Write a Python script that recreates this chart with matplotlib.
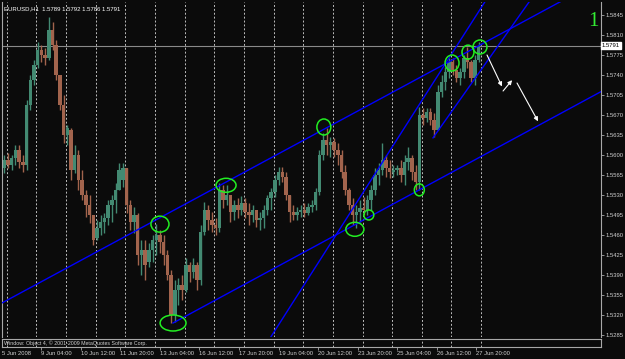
#!/bin/python
'''
EURUSD H1 chart with trend channel, 5 Jun - 27 Jun 2008
candles grouped by 3 hours, prices in 1e-4 units
'''

import matplotlib.pyplot as plt
from matplotlib.patches import Ellipse
import numpy as np

# 3-hour candles, price * 10000
opens = [15577, 15591, 15582, 15595, 15609, 15588, 15582, 15687, 15731, 15757,
         15784, 15775, 15770, 15819, 15792, 15740, 15687, 15635, 15644, 15574,
         15600, 15556, 15530, 15512, 15495, 15455, 15472, 15483, 15490, 15512,
         15521, 15539, 15556, 15577, 15512, 15483, 15495, 15425, 15434, 15413,
         15434, 15451, 15460, 15448, 15425, 15390, 15320, 15364, 15372, 15364,
         15407, 15395, 15407, 15381, 15465, 15504, 15486, 15477, 15472, 15539,
         15521, 15530, 15500, 15512, 15504, 15516, 15500, 15495, 15504, 15486,
         15490, 15504, 15525, 15535, 15556, 15570, 15561, 15530, 15500, 15495,
         15500, 15504, 15498, 15509, 15512, 15535, 15600, 15626, 15617, 15623,
         15609, 15600, 15570, 15539, 15512, 15495, 15500, 15507, 15504, 15521,
         15539, 15565, 15574, 15591, 15577, 15570, 15574, 15577, 15565, 15588,
         15595, 15570, 15553, 15670, 15665, 15675, 15661, 15644, 15710, 15728,
         15745, 15763, 15749, 15735, 15745, 15770, 15763, 15735, 15766]
highs = [15600, 15603, 15600, 15617, 15617, 15600, 15696, 15740, 15766, 15798,
         15792, 15787, 15841, 15833, 15801, 15740, 15705, 15652, 15647, 15617,
         15609, 15574, 15539, 15530, 15495, 15486, 15495, 15498, 15521, 15530,
         15551, 15586, 15586, 15577, 15521, 15509, 15498, 15451, 15451, 15446,
         15460, 15479, 15469, 15460, 15434, 15399, 15381, 15385, 15390, 15420,
         15413, 15420, 15413, 15477, 15518, 15512, 15500, 15490, 15551, 15547,
         15547, 15530, 15521, 15525, 15528, 15525, 15516, 15512, 15504, 15500,
         15512, 15530, 15542, 15565, 15579, 15579, 15570, 15530, 15512, 15509,
         15512, 15516, 15516, 15521, 15542, 15609, 15638, 15647, 15631, 15630,
         15621, 15609, 15582, 15542, 15525, 15512, 15521, 15526, 15530, 15547,
         15577, 15586, 15621, 15600, 15591, 15582, 15582, 15591, 15600, 15614,
         15600, 15582, 15684, 15682, 15682, 15682, 15673, 15722, 15740, 15754,
         15770, 15770, 15757, 15752, 15775, 15789, 15766, 15775, 15798]
lows = [15568, 15577, 15574, 15582, 15577, 15570, 15574, 15679, 15722, 15752,
        15763, 15757, 15766, 15784, 15731, 15679, 15621, 15617, 15556, 15568,
        15539, 15521, 15491, 15481, 15442, 15451, 15460, 15463, 15477, 15483,
        15498, 15539, 15544, 15498, 15469, 15463, 15407, 15390, 15381, 15404,
        15413, 15425, 15428, 15407, 15381, 15306, 15308, 15337, 15346, 15360,
        15378, 15385, 15364, 15372, 15460, 15469, 15465, 15460, 15465, 15507,
        15512, 15483, 15486, 15490, 15495, 15490, 15477, 15483, 15474, 15469,
        15472, 15495, 15504, 15526, 15547, 15553, 15521, 15483, 15486, 15486,
        15491, 15491, 15495, 15500, 15504, 15530, 15591, 15600, 15596, 15596,
        15582, 15560, 15530, 15504, 15477, 15472, 15483, 15495, 15495, 15504,
        15530, 15547, 15565, 15561, 15560, 15561, 15565, 15553, 15547, 15574,
        15556, 15539, 15539, 15652, 15658, 15652, 15631, 15644, 15701, 15714,
        15735, 15740, 15728, 15722, 15735, 15752, 15728, 15722, 15763]
closes = [15591, 15582, 15595, 15609, 15588, 15582, 15687, 15731, 15757, 15784,
          15775, 15770, 15819, 15792, 15740, 15687, 15635, 15647, 15574, 15600,
          15556, 15530, 15512, 15495, 15451, 15472, 15483, 15490, 15512, 15521,
          15539, 15574, 15577, 15512, 15483, 15495, 15425, 15434, 15407, 15434,
          15451, 15460, 15448, 15425, 15390, 15320, 15364, 15372, 15364, 15407,
          15395, 15407, 15381, 15465, 15504, 15486, 15477, 15472, 15539, 15521,
          15530, 15500, 15512, 15504, 15516, 15500, 15495, 15504, 15486, 15490,
          15504, 15525, 15535, 15556, 15570, 15561, 15530, 15500, 15495, 15500,
          15504, 15498, 15509, 15512, 15535, 15600, 15626, 15617, 15623, 15609,
          15600, 15570, 15539, 15512, 15495, 15500, 15507, 15504, 15521, 15539,
          15565, 15574, 15591, 15577, 15570, 15574, 15577, 15565, 15588, 15595,
          15570, 15553, 15670, 15665, 15675, 15661, 15644, 15710, 15728, 15745,
          15763, 15749, 15735, 15745, 15770, 15763, 15735, 15766, 15791]

# hour index of x tick labels (hour 0 = 5 Jun 21:00)
tick_hours = [31, 63, 95, 127, 159, 191, 223, 255, 287, 319, 351, 383]
tick_labels = ["9 Jun 04:00", "10 Jun 12:00", "11 Jun 20:00", "13 Jun 04:00",
               "16 Jun 12:00", "17 Jun 20:00", "19 Jun 04:00", "20 Jun 12:00",
               "23 Jun 20:00", "25 Jun 04:00", "26 Jun 12:00", "27 Jun 20:00"]
day_start_hours = [3, 27, 51, 75, 99, 123, 147, 171, 195, 219, 243, 267,
                   291, 315, 339, 363, 387]
price_ticks = [1.5285, 1.5320, 1.5355, 1.5390, 1.5425, 1.5460, 1.5495, 1.5530,
               1.5565, 1.5600, 1.5635, 1.5670, 1.5705, 1.5740, 1.5775, 1.5810,
               1.5845]
last_price = 1.5791
header = "EURUSD,H1  1.5789 1.5792 1.5786 1.5791"

# trend lines: (hour1, price1, hour2, price2), drawn as rays to the right
trend_lines = [(-1.0, 1.5341, 363.5, 1.5766),
               (137.6, 1.5306, 337.0, 1.5539),
               (216.9, 1.5282, 375.6, 1.5819),
               (348.1, 1.5630, 394.2, 1.5771)]

# touch circles: hour, price, width (hours), height (price)
circle_h = [127.0, 137.6, 180.5, 259.7, 284.8, 296.1, 337.0, 363.5, 376.4, 386.1]
circle_p = [1.5479, 1.5306, 1.5547, 1.5649, 1.5470, 1.5495, 1.5539, 1.5761, 1.5780, 1.5789]
circle_w = [14.6, 21.0, 16.2, 11.3, 14.6, 8.1, 8.1, 11.3, 9.7, 11.3]
circle_ht = [0.0028, 0.0028, 0.00245, 0.0028, 0.00245, 0.00175, 0.0021, 0.0028, 0.00245, 0.00245]

# forecast arrows: (hour start, price start, hour end, price end)
arrows = [(391.8, 1.5775, 403.9, 1.5720),
          (404.8, 1.5712, 412.1, 1.5731),
          (416.1, 1.5726, 433.1, 1.5659)]


def main():
    bg = '#0b0b0b'
    up_col = '#438a72'
    dn_col = '#a2644d'
    axis_col = '#a8a8a8'
    txt_col = '#d0d0d0'
    small = ['Liberation Sans', 'DejaVu Sans']

    W, H = 625, 359
    fig = plt.figure(figsize=(6.25, 3.59), dpi=100, facecolor=bg)
    ax = fig.add_axes([2 / W, (H - 337) / H, 599 / W, 335 / H], facecolor=bg)
    sub = fig.add_axes([2 / W, (H - 347) / H, 599 / W, 8 / H], facecolor=bg, sharex=ax)

    o = np.array(opens) / 1e4
    hi = np.array(highs) / 1e4
    lo = np.array(lows) / 1e4
    c = np.array(closes) / 1e4
    x = np.arange(len(o)) * 3 + 1
    cols = [up_col if cc >= oo else dn_col for oo, cc in zip(o, c)]

    # grid
    for d in day_start_hours:
        ax.axvline(d, color='#bdbdbd', lw=0.7, ls=(0, (2, 2)), zorder=1)
        sub.axvline(d, color='#bdbdbd', lw=0.7, ls=(0, (2, 2)), zorder=1)
    ax.axhline(last_price, color='#8a8a8a', lw=0.8, zorder=1)

    # candles
    ax.vlines(x, lo, hi, colors=cols, lw=1.0, zorder=2)
    body = np.abs(c - o)
    body = np.maximum(body, 0.00008)
    ax.bar(x, body, bottom=np.minimum(o, c), width=2.8, color=cols, lw=0, zorder=2)

    xl = (-0.905, 484.1)
    ax.set_xlim(*xl)
    ax.set_ylim(1.52815, 1.586775)

    # trend lines
    for h1, p1, h2, p2 in trend_lines:
        slope = (p2 - p1) / (h2 - h1)
        ax.plot([h1, xl[1]], [p1, p1 + slope * (xl[1] - h1)], color='#0000ff', lw=1.0, zorder=3)

    for i in range(len(circle_h)):
        ax.add_patch(Ellipse((circle_h[i], circle_p[i]), circle_w[i], circle_ht[i],
                             fill=False, ec='#22ee22', lw=1.1, zorder=4))

    for h1, p1, h2, p2 in arrows:
        ax.annotate('', xy=(h2, p2), xytext=(h1, p1),
                    arrowprops=dict(arrowstyle='-|>', color='white', lw=0.8,
                                    mutation_scale=6, shrinkA=0, shrinkB=0))

    # axes look
    for s in ['top', 'bottom']:
        ax.spines[s].set_visible(False)
    for s in ['left', 'right']:
        ax.spines[s].set_color(axis_col)
        ax.spines[s].set_linewidth(0.8)
    for s in sub.spines.values():
        s.set_color(axis_col)
        s.set_linewidth(0.8)

    ax.yaxis.tick_right()
    ax.set_yticks(price_ticks)
    ax.set_yticklabels(["%.4f" % p for p in price_ticks])
    ax.tick_params(axis='y', colors=axis_col, labelcolor=txt_col, labelsize=4.2,
                   length=2, width=0.6, pad=1.5)
    for t in ax.get_yticklabels():
        t.set_family(small)
    ax.tick_params(axis='x', bottom=False, labelbottom=False)

    sub.set_yticks([])
    sub.set_xticks(tick_hours)
    sub.set_xticklabels(tick_labels)
    sub.tick_params(axis='x', colors=axis_col, labelcolor=txt_col, labelsize=4.2,
                    length=2, width=0.6, pad=1.0)
    for t in sub.get_xticklabels():
        t.set_family(small)
        t.set_horizontalalignment('left')
    sub.text(0.0, 1.0 - 1.5, "5 Jun 2008", transform=sub.transAxes, fontsize=4.2,
             color=txt_col, family=small, ha='left', va='top')
    sub.text(0.004, 0.5, "Window: Object 4, \u00a9 2001-2009 MetaQuotes Software Corp.",
             transform=sub.transAxes, fontsize=3.8, color=txt_col, family=small,
             ha='left', va='center')

    # last price box
    ax.text(1.0 + 1 / 599, last_price, "%.4f" % last_price, transform=ax.get_yaxis_transform(),
            fontsize=4.2, family=small, color='black', ha='left', va='center',
            bbox=dict(boxstyle='square,pad=0.15', fc='white', ec='white'))

    fig.text(4 / W, 1 - 9 / H, header, fontsize=4.3, color='white', family=small,
             ha='left', va='center')
    fig.text(593 / W, 1 - 22 / H, "1", fontsize=15, color='#33ee33',
             family=['Liberation Serif', 'DejaVu Serif'], ha='center', va='center')

    fig.savefig('out.png', dpi=100, facecolor=bg)


main()
